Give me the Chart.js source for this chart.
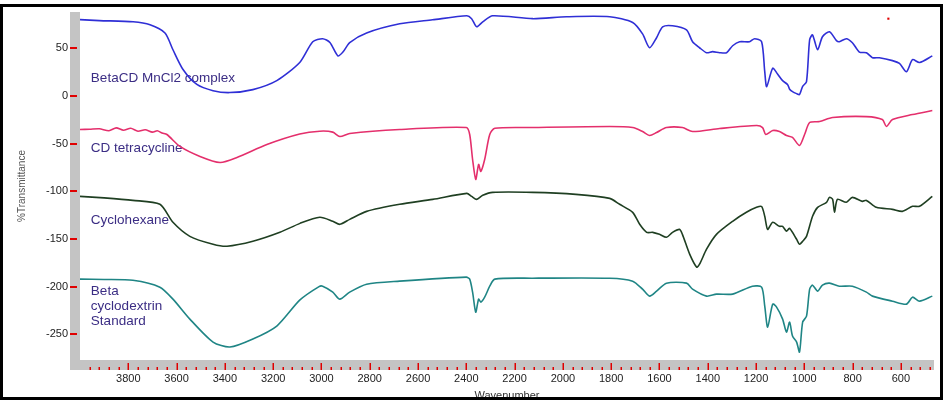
<!DOCTYPE html>
<html>
<head>
<meta charset="utf-8">
<script src="https://cdn.jsdelivr.net/npm/chart.js@4.4.0/dist/chart.umd.min.js"></script>
<style>
  body { margin: 0; background: #fff; }
  #wrap { position: relative; width: 951px; height: 400px; }
  #ir { display: block; }
  #frame { position: absolute; left: 0; top: 4px; width: 943px; height: 396px; box-sizing: border-box; border: 3px solid #000; pointer-events: none; }
</style>
</head>
<body>
<div id="wrap">
  <canvas id="ir" width="951" height="400"></canvas>
  <div id="frame"></div>
</div>
<script>
// series names
const seriesNames = ["BetaCD MnCl2 complex", "CD tetracycline", "Cyclohexane", "Beta cyclodextrin Standard"];

// BetaCD MnCl2 complex
const mnWave = [4000, 3920, 3780, 3710, 3648, 3615, 3574, 3516, 3449, 3380, 3284, 3185, 3090, 3036, 2995, 2965, 2932, 2911, 2883, 2813,
  2676, 2540, 2398, 2378, 2357, 2332, 2291, 2125, 1985, 1806, 1711, 1670, 1641, 1612, 1587, 1546, 1488, 1463, 1434, 1405,
  1380, 1351, 1322, 1297, 1268, 1227, 1206, 1177, 1164, 1156, 1131, 1111, 1090, 1069, 1061, 1049, 1032, 1020, 1007, 991,
  978, 966, 945, 925, 896, 867, 855, 826, 801, 772, 743, 718, 689, 635, 606, 577, 552, 523, 470];
const mnT = [80, 79, 77.7, 74.6, 66, 48.4, 28, 12, 5.5, 3.5, 6.6, 16, 35, 56.8, 60, 56, 42, 46, 56, 66,
  75.6, 79.8, 84, 81, 72.5, 77.7, 84, 81, 83, 83, 77, 65, 50.5, 61, 72.5, 73.6, 69.3, 56.8, 50.5, 45.3,
  46.4, 45.3, 45.3, 52.6, 56.8, 56.8, 60, 56.8, 25.4, 9.7, 29, 23, 16, 11.8, 7, 4.5, 2.4, 1.4, 10, 15,
  59, 64, 48.4, 62.1, 67.3, 58, 56.8, 60, 55.8, 46, 45.3, 40.1, 40, 37, 34, 25.4, 38, 35, 42];

// CD tetracycline
const tetraWave = [4000, 3960, 3920, 3880, 3850, 3820, 3790, 3760, 3730, 3700, 3680, 3660, 3640, 3586, 3503, 3420, 3350, 3226, 3090, 3007,
  2953, 2924, 2883, 2676, 2400, 2386, 2374, 2361, 2349, 2340, 2324, 2303, 2282, 2125, 1806, 1711, 1670, 1641, 1612, 1571,
  1505, 1463, 1351, 1198, 1173, 1160, 1131, 1103, 1074, 1049, 1020, 999, 978, 937, 883, 743, 677, 660, 635, 552, 470];
const tetraT = [-35.3, -35, -34.5, -36.5, -33.5, -36, -34, -37, -35.5, -38, -36.5, -39, -40.5, -53, -63.5, -69.8, -64.6, -51, -40, -37,
  -38, -42.6, -39.4, -35.3, -33.2, -40.5, -66.7, -87.6, -71.9, -79.2, -66.7, -40.5, -34, -33.2, -32.1, -33.2, -37.4, -41.5, -38.4, -33.2,
  -33.2, -37.4, -34.2, -31.1, -33.2, -40.5, -36.3, -37.4, -41.5, -43.6, -52, -40.5, -27.9, -26.9, -22.7, -21.7, -24.8, -32.1, -24.8, -19.6, -15.4];

// Cyclohexane
const cycloWave = [4000, 3900, 3781, 3669, 3615, 3545, 3449, 3391, 3284, 3172, 3089, 3007, 2953, 2924, 2883, 2813, 2676, 2539, 2398, 2378,
  2357, 2332, 2291, 2125, 1946, 1806, 1765, 1711, 1682, 1653, 1628, 1600, 1571, 1546, 1517, 1505, 1475, 1446, 1434, 1405,
  1364, 1297, 1240, 1198, 1177, 1164, 1152, 1131, 1103, 1090, 1074, 1061, 1032, 1020, 1007, 991, 966, 945, 908, 896,
  883, 875, 863, 826, 801, 760, 743, 702, 635, 594, 552, 523, 470];
const cycloT = [-105.4, -107, -109.6, -113.7, -132.6, -147.3, -155.6, -157.7, -152.5, -143.1, -133.7, -127.3, -131.5, -134.7, -129.5, -121.1, -113.7, -108.5, -102.2, -105.4,
  -108.5, -104.3, -101.2, -101.2, -103.3, -107.5, -113.7, -122.1, -134.7, -143.1, -143.1, -145.2, -148.3, -143.1, -140, -145.2, -166, -179.6, -176.5, -160.8,
  -145.2, -131.5, -122.1, -116.9, -116, -126.3, -140, -132.6, -136.8, -136.8, -142, -138.9, -150.4, -155.6, -152.5, -147.3, -126.3, -116.9, -111.6, -106.4,
  -108.5, -122.1, -108.5, -111.6, -106.4, -110.6, -109.6, -116.9, -119, -121.1, -115.8, -115.8, -105.4];

// Beta cyclodextrin Standard
const betaWave = [4000, 3900, 3781, 3669, 3615, 3545, 3449, 3379, 3284, 3185, 3089, 3010, 2995, 2953, 2924, 2883, 2813, 2676, 2400, 2386,
  2374, 2361, 2349, 2340, 2324, 2303, 2282, 2125, 1806, 1711, 1670, 1641, 1612, 1571, 1488, 1463, 1405, 1364, 1297, 1215,
  1177, 1164, 1152, 1131, 1115, 1090, 1074, 1061, 1049, 1032, 1020, 1007, 991, 978, 966, 945, 925, 896, 855, 801,
  743, 718, 635, 577, 552, 523, 470];
const betaT = [-192.2, -192.5, -193.3, -200.6, -213.2, -234.1, -258.2, -263.4, -255, -241.4, -214, -200, -199.6, -205.8, -213.2, -205.8, -197.5, -194.3, -190.1, -192.2,
  -205.8, -226.8, -213.2, -216.3, -211.1, -199.6, -192.2, -191.2, -191.2, -194.3, -202.7, -210, -204.8, -196.4, -196.4, -202.7, -210, -207.9, -207.9, -199.6,
  -200.6, -220.5, -242.5, -218.4, -221.5, -234.1, -247.7, -237.3, -251.9, -258.2, -268.6, -237.3, -231, -202.7, -198.5, -204.8, -198.5, -196.4, -199.6, -199.6,
  -205.8, -210, -215.3, -218.4, -211.1, -215.3, -210];

// stray red mark top right
const markWave = [652];
const markT = [81];

// axis ticks
const yTicks = [50, 0, -50, -100, -150, -200, -250];
const xTicks = [];
for (let w = 3960; w >= 480; w -= 40) xTicks.push(w);

const pts = (wave, vals) => wave.map((w, i) => ({ x: w, y: vals[i] }));

const FONT = '"Liberation Sans", Arial, sans-serif';

// in-plot labels, gray axis bars and red tick marks
const decor = {
  id: "decor",
  beforeDraw(chart) {
    const { ctx, chartArea: a } = chart;
    ctx.save();
    ctx.fillStyle = "#c4c4c4";
    ctx.fillRect(a.left - 10, a.top, 10, a.bottom - a.top + 10);
    ctx.fillRect(a.left - 10, a.bottom, a.right - a.left + 10, 10);
    ctx.restore();
  },
  beforeDatasetsDraw(chart) {
    const { ctx, scales: { x, y } } = chart;
    const lx = x.getPixelForValue(3955);
    const labels = [
      { lines: ["BetaCD MnCl2 complex"], v: 19 },
      { lines: ["CD tetracycline"], v: -55.2 },
      { lines: ["Cyclohexane"], v: -130.6 },
      { lines: ["Beta", "cyclodextrin", "Standard"], v: -204.9 }
    ];
    ctx.save();
    ctx.font = "13.5px " + FONT;
    ctx.fillStyle = "#3b2d84";
    ctx.textBaseline = "middle";
    labels.forEach(l => {
      const py = y.getPixelForValue(l.v);
      l.lines.forEach((t, i) => ctx.fillText(t, lx, py + i * 15));
    });
    ctx.restore();
  },
  afterDraw(chart) {
    const { ctx, chartArea: a, scales: { x, y } } = chart;
    ctx.save();
    ctx.fillStyle = "#e00000";
    y.ticks.forEach(t => {
      const py = Math.round(y.getPixelForValue(t.value));
      ctx.fillRect(a.left - 10, py - 1, 7, 2);
    });
    x.ticks.forEach(t => {
      const px = Math.round(x.getPixelForValue(t.value));
      const h = t.value % 200 === 0 ? 7 : 3;
      ctx.fillRect(px - 0.5, a.bottom + 10 - h, 1.5, h);
    });
    ctx.restore();
  }
};

const line = (label, data, color) => ({
  label, data, borderColor: color, borderWidth: 1.6,
  pointRadius: 0, tension: 0.25, fill: false, showLine: true
});

new Chart(document.getElementById("ir"), {
  type: "scatter",
  data: {
    datasets: [
      line(seriesNames[0], pts(mnWave, mnT), "#2f2fd6"),
      line(seriesNames[1], pts(tetraWave, tetraT), "#e42f6c"),
      line(seriesNames[2], pts(cycloWave, cycloT), "#1f3f22"),
      line(seriesNames[3], pts(betaWave, betaT), "#1f8585"),
      {
        label: "mark", data: pts(markWave, markT), showLine: false,
        pointStyle: "rect", pointRadius: 1.5, backgroundColor: "#e00000", borderWidth: 0
      }
    ]
  },
  options: {
    responsive: false,
    animation: false,
    layout: { padding: { top: 12, right: 17, bottom: 0, left: 0 } },
    plugins: { legend: { display: false }, tooltip: { enabled: false } },
    scales: {
      x: {
        type: "linear",
        reverse: true,
        min: 463,
        max: 4000,
        afterBuildTicks: s => { s.ticks = xTicks.map(v => ({ value: v })); },
        afterFit: s => { s.height = 40; },
        grid: { drawOnChartArea: false, drawTicks: true, tickLength: 10, color: "rgba(0,0,0,0)" },
        border: { display: false },
        ticks: {
          autoSkip: false, maxRotation: 0, padding: 2,
          color: "#222", font: { family: FONT, size: 11 },
          callback: v => (v % 200 === 0 ? String(v) : "")
        },
        title: {
          display: true, text: "Wavenumber", color: "#333",
          font: { family: FONT, size: 11 }, padding: { top: 0, bottom: -3 }
        }
      },
      y: {
        min: -277,
        max: 88,
        afterBuildTicks: s => { s.ticks = yTicks.map(v => ({ value: v })); },
        afterFit: s => { s.width = 80; },
        grid: { drawOnChartArea: false, drawTicks: true, tickLength: 8, color: "rgba(0,0,0,0)" },
        border: { display: false },
        ticks: { padding: 4, color: "#222", font: { family: FONT, size: 11 } },
        title: {
          display: true, text: "%Transmittance", color: "#555",
          font: { family: FONT, size: 10 }, padding: { top: 16, bottom: 0 }
        }
      }
    }
  },
  plugins: [decor]
});
</script>
</body>
</html>
